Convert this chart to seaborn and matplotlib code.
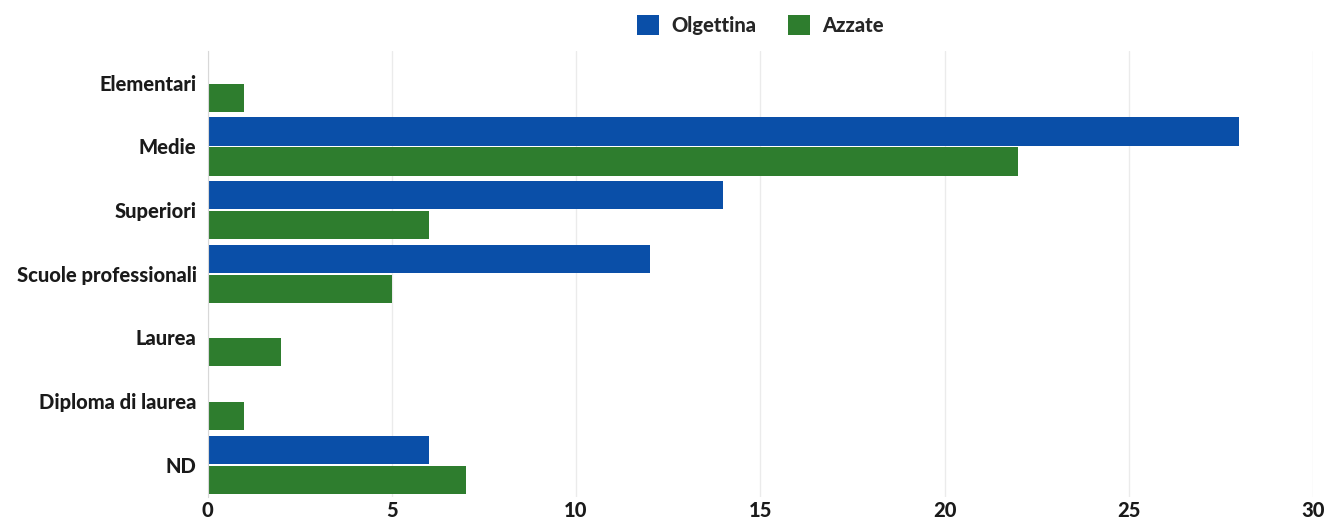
import matplotlib
matplotlib.use('Agg')
import matplotlib.pyplot as plt
import seaborn as sns
import pandas as pd

categorie = ['Elementari', 'Medie', 'Superiori', 'Scuole professionali',
             'Laurea', 'Diploma di laurea', 'ND']
olgettina = [0, 28, 14, 12, 0, 0, 6]
azzate = [1, 22, 6, 5, 2, 1, 7]
serie = ['Olgettina', 'Azzate']
colori = ['#0a4fa8', '#2e7d2e']

df = pd.DataFrame({
    'titolo': categorie * 2,
    'valore': olgettina + azzate,
    'scuola': [serie[0]] * len(categorie) + [serie[1]] * len(categorie),
})

sns.set_style('white')
plt.rcParams['font.family'] = ['Lato', 'DejaVu Sans']

fig = plt.figure(figsize=(13.31, 5.26), dpi=100)
ax = fig.add_axes([0.156, 0.056, 0.8305, 0.847])

sns.barplot(data=df, y='titolo', x='valore', hue='scuola', order=categorie,
            hue_order=serie, palette=colori, orient='h', width=0.94, gap=0.06,
            saturation=1, ax=ax, edgecolor='none')

ax.set_xlim(0, 30)
ax.set_ylim(6.5, -0.5)
ax.set_xticks(range(0, 31, 5))
ax.grid(axis='x', color='#ebebeb', linewidth=1)
ax.set_axisbelow(True)
for s in ['top', 'right', 'bottom']:
    ax.spines[s].set_visible(False)
ax.spines['left'].set_color('#d8d8d8')
ax.tick_params(axis='y', length=0, labelsize=14.5, pad=8)
ax.tick_params(axis='x', length=0, labelsize=14.5, pad=3)
for lab in ax.get_xticklabels() + ax.get_yticklabels():
    lab.set_fontweight('black')
    lab.set_color('#1a1a1a')
ax.set_xlabel('')
ax.set_ylabel('')

ax.legend(loc='center', bbox_to_anchor=(0.5, 1.058), ncol=2, frameon=False,
          handlelength=1.1, handleheight=1.1, columnspacing=1.6, handletextpad=0.6,
          prop={'weight': 'black', 'size': 14.5})

fig.savefig('out.png', dpi=100)
